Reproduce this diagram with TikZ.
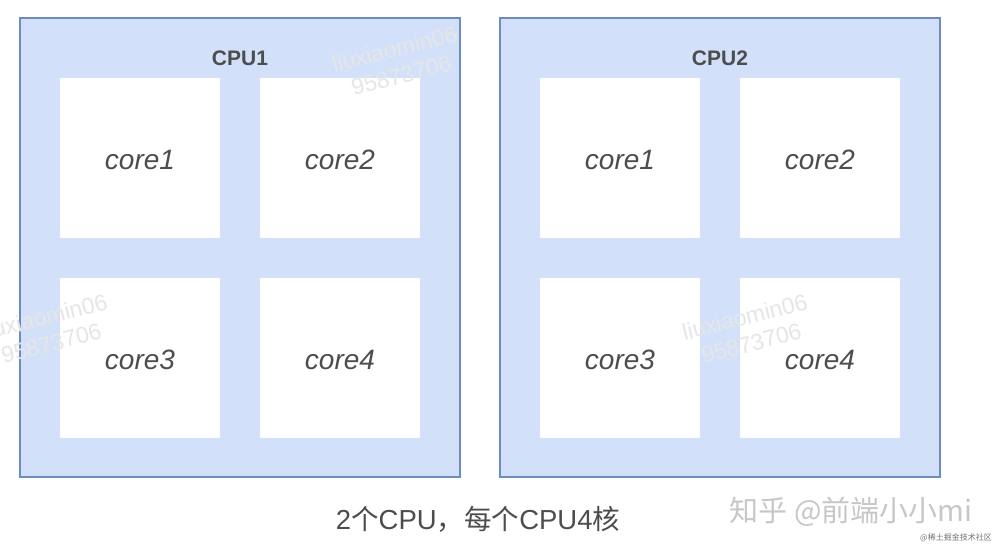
\documentclass[tikz,border=0pt]{standalone}
\usepackage{fontspec}
\setmainfont{Liberation Sans}
\newfontfamily\cjk{Noto Sans CJK SC}
\definecolor{cpufill}{HTML}{D2E1F9}
\definecolor{cpuline}{HTML}{6C8EBF}
\definecolor{txt}{HTML}{4D4D4D}
\definecolor{wm}{HTML}{E6E6E6}
\begin{document}
\begin{tikzpicture}[x=1pt,y=-1pt,
  cpubox/.style={draw=cpuline,fill=cpufill,line width=1.2pt,minimum width=440pt,minimum height=459pt,inner sep=0pt},
  corebox/.style={fill=white,draw=none,minimum width=160pt,minimum height=160pt,inner sep=0pt},
  corelabel/.style={font=\fontsize{28}{32}\selectfont\itshape,text=txt,inner sep=0pt},
  cpulabel/.style={font=\fontsize{21}{25}\selectfont\bfseries,text=txt,inner sep=0pt},
  wmark/.style={text=wm,font=\fontsize{23}{27}\selectfont,rotate=14,align=center,inner sep=0pt}]
\useasboundingbox (0,0) rectangle (1002,552);
\fill[white] (0,0) rectangle (1002,552);
% CPU1
\node[cpubox] (cpuA) at (240,247.5) {};
\node[cpulabel] (cpuAl) at (240,58) {CPU1};
\node[corebox] (a1) at (140,158) {};
\node[corebox] (a2) at (340,158) {};
\node[corebox] (a3) at (140,358) {};
\node[corebox] (a4) at (340,358) {};
% CPU2
\node[cpubox] (cpuB) at (720,247.5) {};
\node[cpulabel] (cpuBl) at (720,58) {CPU2};
\node[corebox] (b1) at (620,158) {};
\node[corebox] (b2) at (820,158) {};
\node[corebox] (b3) at (620,358) {};
\node[corebox] (b4) at (820,358) {};
% watermarks
\node[wmark] (w1) at (398,62) {liuxiaomin06\\95873706};
\node[wmark] (w2) at (48,330) {liuxiaomin06\\95873706};
\node[wmark] (w3) at (748,330) {liuxiaomin06\\95873706};
% core labels
\foreach \n/\t in {a1/core1,a2/core2,a3/core3,a4/core4,b1/core1,b2/core2,b3/core3,b4/core4}
  \node[corelabel] (l\n) at ([yshift=-2pt]\n.center) {\t};
% caption
\node[text=txt,font=\fontsize{27.5}{31}\selectfont,inner sep=0pt] (cap) at (478,519) {2{\cjk 个}CPU{\cjk ，每个}CPU4{\cjk 核}};
\node[text=black!22,font=\cjk\fontsize{29}{32}\selectfont,inner sep=0pt] (zh) at (851,512) {知乎 @前端小小mi};
\node[text=black!55,font=\cjk\fontsize{8}{9}\selectfont,inner sep=0pt] (jj) at (956,538) {@稀土掘金技术社区};
\end{tikzpicture}
\end{document}
